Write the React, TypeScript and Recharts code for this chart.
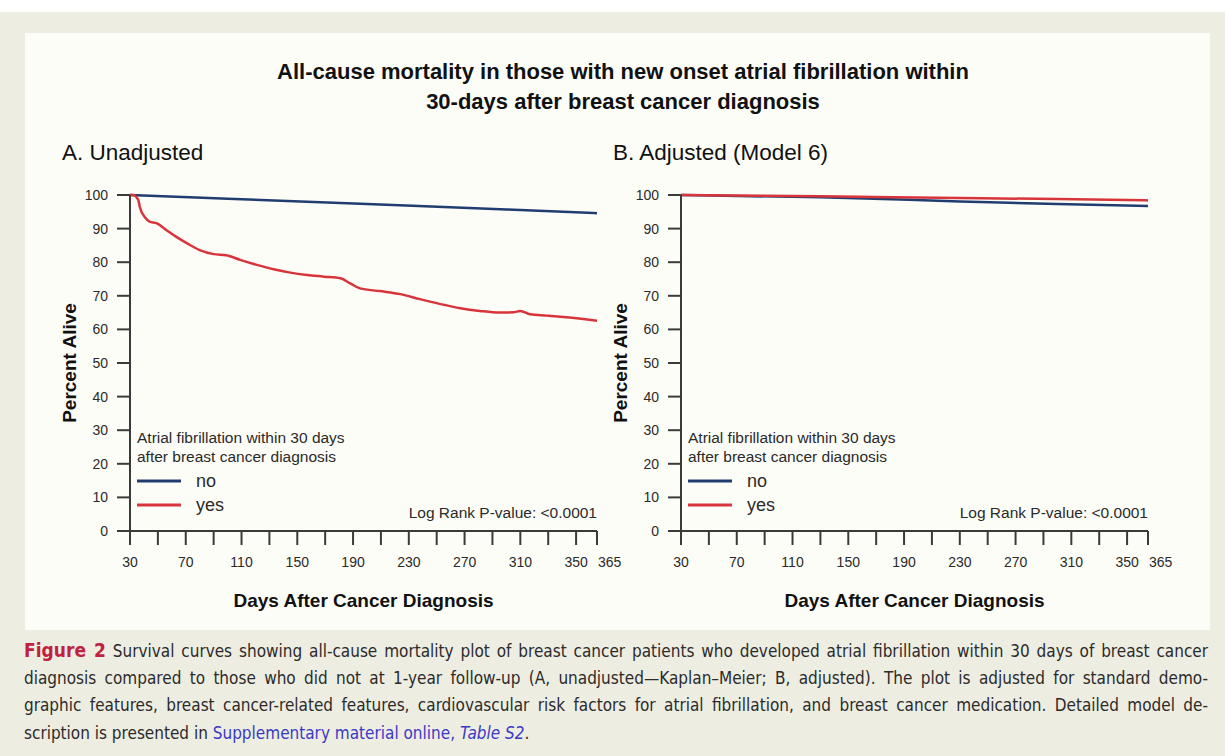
import { LineChart, Line, XAxis, YAxis, Legend, Label } from 'recharts'

// axis ticks
const xTicks = [30, 50, 70, 90, 110, 130, 150, 170, 190, 210, 230, 250, 270, 290, 310, 330, 350, 365]
const xLabelled = [30, 70, 110, 150, 190, 230, 270, 310, 350, 365]
const yTicks = [0, 10, 20, 30, 40, 50, 60, 70, 80, 90, 100]

// A. Unadjusted (Kaplan-Meier)
const daysAYes = [30, 32, 36, 37, 41, 44, 49, 56, 63, 71, 80, 90, 99, 109, 121, 133, 145, 157, 169, 181, 188, 195, 209, 224, 238, 252, 267, 281, 295, 305, 310, 317, 329, 343, 365]
const pctAYes = [100, 100, 98.5, 96.5, 93.2, 92.1, 91.6, 89.6, 87.6, 85.6, 83.6, 82.4, 82.1, 80.7, 79.2, 77.9, 76.9, 76.2, 75.7, 75.2, 73.7, 72.2, 71.4, 70.5, 69.0, 67.6, 66.3, 65.5, 65.0, 65.1, 65.5, 64.5, 64.1, 63.6, 62.6]
const daysANo = [30, 100, 200, 300, 365]
const pctANo = [100, 98.9, 97.3, 95.7, 94.6]

// B. Adjusted (Model 6)
const daysBYes = [30, 130, 230, 300, 365]
const pctBYes = [100, 99.6, 99.1, 98.8, 98.4]
const daysBNo = [30, 130, 230, 300, 365]
const pctBNo = [100, 99.3, 98.1, 97.3, 96.7]

const legendTitle = ['Atrial fibrillation within 30 days', 'after breast cancer diagnosis']

const BLUE = '#213d70'
const RED = '#d8343b'
const INK = '#2a2a2a'
const FONT = '"Liberation Sans", Arial, Helvetica, sans-serif'

const zip = (days: number[], pct: number[]) => days.map((d, i) => ({ day: d, pct: pct[i] }))

// last label (365) sits just right of its tick so it doesn't collide with 350
function DayTick({ x, y, payload }: any) {
  const v = payload.value
  if (!xLabelled.includes(v)) return <g />
  const last = v === 365
  return (
    <text x={last ? x + 1 : x} y={y} dy="0.72em" textAnchor={last ? 'start' : 'middle'} fill={INK} fontSize={14} fontFamily={FONT}>
      {v}
    </text>
  )
}

function LegendBox({ payload }: any) {
  return (
    <div style={{ fontFamily: FONT, color: INK }}>
      {legendTitle.map(t => (
        <div key={t} style={{ fontSize: 15.5, lineHeight: '19px' }}>{t}</div>
      ))}
      <div style={{ marginTop: 3 }}>
        {(payload || []).map((p: any) => (
          <div key={p.value} style={{ display: 'flex', alignItems: 'center', height: 24 }}>
            <svg width={46} height={6} style={{ marginRight: 13 }}>
              <line x1={0} y1={3} x2={44} y2={3} stroke={p.color} strokeWidth={3} />
            </svg>
            <span style={{ fontSize: 18 }}>{p.value}</span>
          </div>
        ))}
      </div>
    </div>
  )
}

function SurvivalPanel({ left, title, noData, yesData }: { left: number; title: string; noData: any[]; yesData: any[] }) {
  return (
    <div style={{ position: 'absolute', left, top: 0, width: 640, height: 620 }}>
      <div style={{ position: 'absolute', left: 62, top: 140, fontSize: 22.5, color: '#111', fontFamily: FONT }}>{title}</div>
      <LineChart width={640} height={620} margin={{ top: 195, right: 43, bottom: 9, left: 60 }}>
        <XAxis
          dataKey="day"
          type="number"
          domain={[30, 365]}
          ticks={xTicks}
          interval={0}
          height={80}
          tickSize={14}
          tickMargin={12}
          tick={<DayTick />}
          axisLine={{ stroke: '#3a3a3a', strokeWidth: 2 }}
          tickLine={{ stroke: '#3a3a3a', strokeWidth: 2 }}
        >
          <Label value="Days After Cancer Diagnosis" position="insideBottom" offset={4} style={{ fontSize: 19, fontWeight: 700, fill: '#111', fontFamily: FONT }} />
        </XAxis>
        <YAxis
          type="number"
          domain={[0, 100]}
          ticks={yTicks}
          interval={0}
          width={70}
          tickSize={13}
          tickMargin={9}
          tick={{ fill: INK, fontSize: 14, fontFamily: FONT }}
          axisLine={{ stroke: '#3a3a3a', strokeWidth: 2 }}
          tickLine={{ stroke: '#3a3a3a', strokeWidth: 2 }}
        >
          <Label value="Percent Alive" angle={-90} position="insideLeft" offset={9} style={{ fontSize: 19, fontWeight: 700, fill: '#111', fontFamily: FONT, textAnchor: 'middle' }} />
        </YAxis>
        <Legend
          layout="vertical"
          align="center"
          verticalAlign="middle"
          content={<LegendBox />}
          wrapperStyle={{ left: 137, top: 428, width: 280 }}
        />
        <Line data={noData} dataKey="pct" name="no" type="monotone" stroke={BLUE} strokeWidth={2.5} dot={false} isAnimationActive={false} />
        <Line data={yesData} dataKey="pct" name="yes" type="monotone" stroke={RED} strokeWidth={2.5} dot={false} isAnimationActive={false} />
      </LineChart>
      <div style={{ position: 'absolute', right: 43, top: 504, fontSize: 15.5, color: INK, fontFamily: FONT }}>Log Rank P-value: &lt;0.0001</div>
    </div>
  )
}

const captionLines = [
  'Survival curves showing all-cause mortality plot of breast cancer patients who developed atrial fibrillation within 30 days of breast cancer',
  'diagnosis compared to those who did not at 1-year follow-up (A, unadjusted—Kaplan–Meier; B, adjusted). The plot is adjusted for standard demo-',
  'graphic features, breast cancer-related features, cardiovascular risk factors for atrial fibrillation, and breast cancer medication. Detailed model de-',
]

export default function App() {
  const capFont = '"Liberation Sans Narrow", "DejaVu Sans Condensed", "Liberation Sans", sans-serif'
  const lineStyle: any = { height: 27.5, lineHeight: '27.5px', textAlign: 'justify', textAlignLast: 'justify', whiteSpace: 'nowrap' }
  return (
    <div style={{ position: 'absolute', left: 0, top: 0, width: 1225, height: 756, background: '#fff', fontFamily: FONT, overflow: 'hidden' }}>
      <div style={{ position: 'absolute', left: 0, top: 12, width: 1225, height: 744, background: '#eeede2' }} />
      <div style={{ position: 'absolute', left: 25, top: 33, width: 1185, height: 597, background: '#fdfdf8' }} />
      <div style={{ position: 'absolute', left: 0, top: 57, width: 1246, textAlign: 'center', fontSize: 22, fontWeight: 700, lineHeight: '30px', color: '#111' }}>
        <div>All-cause mortality in those with new onset atrial fibrillation within</div>
        <div>30-days after breast cancer diagnosis</div>
      </div>
      <SurvivalPanel left={0} title="A. Unadjusted" noData={zip(daysANo, pctANo)} yesData={zip(daysAYes, pctAYes)} />
      <SurvivalPanel left={551} title="B. Adjusted (Model 6)" noData={zip(daysBNo, pctBNo)} yesData={zip(daysBYes, pctBYes)} />
      <div style={{ position: 'absolute', left: 24, top: 637, width: 1184, fontFamily: capFont, fontSize: 17, color: '#2b2b2b' }}>
        <div style={lineStyle}>
          <span style={{ color: '#c0213d', fontWeight: 700, fontSize: 19 }}>Figure 2</span> {captionLines[0]}
        </div>
        <div style={lineStyle}>{captionLines[1]}</div>
        <div style={lineStyle}>{captionLines[2]}</div>
        <div style={{ height: 27.5, lineHeight: '27.5px' }}>
          scription is presented in <span style={{ color: '#3a3ac4' }}>Supplementary material online, <i>Table S2</i></span>.
        </div>
      </div>
    </div>
  )
}
